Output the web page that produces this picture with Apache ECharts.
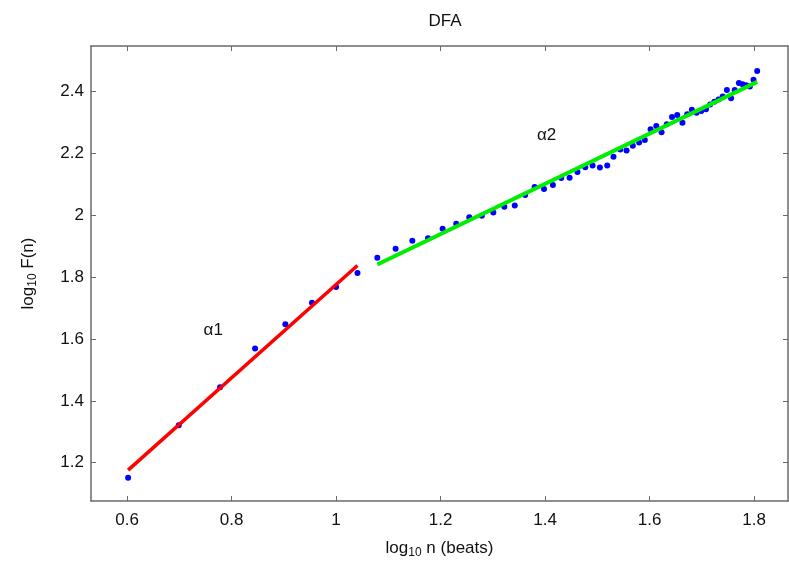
<!DOCTYPE html>
<html>
<head>
<meta charset="utf-8">
<script src="https://cdn.jsdelivr.net/npm/echarts@6/dist/echarts.min.js"></script>
<style>html,body{margin:0;padding:0;background:#fff}#c{width:789px;height:565px}</style>
</head>
<body>
<div id="c"></div>
<script>
// log10 n values (x) and log10 F(n) values (y)
var xShort = [0.602, 0.699, 0.778, 0.845, 0.903, 0.954, 1.000, 1.041];
var yShort = [1.151, 1.321, 1.444, 1.569, 1.648, 1.717, 1.768, 1.814];

var xLong = [1.079, 1.114, 1.146, 1.176, 1.204, 1.230, 1.255, 1.279, 1.301, 1.322,
             1.342, 1.362, 1.380, 1.398, 1.415, 1.431, 1.447, 1.462, 1.477, 1.491,
             1.505, 1.519, 1.531, 1.544, 1.556, 1.568, 1.580, 1.591, 1.602, 1.613,
             1.623, 1.633, 1.643, 1.653, 1.663, 1.672, 1.681, 1.690, 1.699, 1.708,
             1.716, 1.724, 1.732, 1.740, 1.748, 1.756, 1.763, 1.771, 1.778, 1.785,
             1.792, 1.799, 1.806];
var yLong = [1.863, 1.892, 1.918, 1.926, 1.957, 1.973, 1.994, 1.999, 2.009, 2.028,
             2.032, 2.066, 2.092, 2.085, 2.098, 2.121, 2.122, 2.140, 2.156, 2.161,
             2.155, 2.161, 2.190, 2.213, 2.210, 2.225, 2.236, 2.244, 2.279, 2.289,
             2.269, 2.295, 2.318, 2.325, 2.300, 2.327, 2.342, 2.332, 2.338, 2.343,
             2.359, 2.368, 2.375, 2.385, 2.406, 2.379, 2.406, 2.428, 2.424, 2.421,
             2.417, 2.439, 2.467];

// fitted lines (end points)
var fit1X = [0.602, 1.041];
var fit1Y = [1.176, 1.838];
var fit2X = [1.079, 1.806];
var fit2Y = [1.841, 2.432];

var annotX = [0.765, 1.403];
var annotY = [1.629, 2.260];
var annotText = ['\u03b11', '\u03b12'];

var xTicks = [0.6, 0.8, 1, 1.2, 1.4, 1.6, 1.8];
var yTicks = [1.2, 1.4, 1.6, 1.8, 2, 2.2, 2.4];
var xRange = [0.531, 1.865];
var yRange = [1.076, 2.548];

function zip(a, b) { return a.map(function (v, i) { return [v, b[i]]; }); }

var FONT = '"Liberation Sans", Arial, Helvetica, sans-serif';
var AX = '#6a6a6a';
var TXT = '#111111';

function xAx(pos, showLabel) {
  return {
    type: 'value', position: pos, min: xRange[0], max: xRange[1],
    axisLine: { show: true, onZero: false, lineStyle: { color: AX, width: 1.5 } },
    axisTick: { show: true, inside: true, length: 5, customValues: xTicks, lineStyle: { color: AX, width: 1 } },
    axisLabel: { show: showLabel, customValues: xTicks, margin: 11, color: TXT, fontSize: 17, fontFamily: FONT },
    splitLine: { show: false },
    name: showLabel ? '{t|log}{s|10}{t| n (beats)}' : '',
    nameLocation: 'middle', nameGap: 37,
    nameTextStyle: { rich: {
      t: { fontSize: 17, color: TXT, fontFamily: FONT },
      s: { fontSize: 12, color: TXT, fontFamily: FONT, verticalAlign: 'bottom', padding: [9, 0, 0, 0] } } }
  };
}
function yAx(pos, showLabel) {
  return {
    type: 'value', position: pos, min: yRange[0], max: yRange[1],
    axisLine: { show: true, onZero: false, lineStyle: { color: AX, width: 1.5 } },
    axisTick: { show: true, inside: true, length: 5, customValues: yTicks, lineStyle: { color: AX, width: 1 } },
    axisLabel: { show: showLabel, customValues: yTicks, margin: 7, color: TXT, fontSize: 17, fontFamily: FONT },
    splitLine: { show: false },
    name: showLabel ? '{t|log}{s|10}{t| F(n)}' : '',
    nameLocation: 'middle', nameGap: 52, nameRotate: 90,
    nameTextStyle: { rich: {
      t: { fontSize: 17, color: TXT, fontFamily: FONT },
      s: { fontSize: 12, color: TXT, fontFamily: FONT, verticalAlign: 'bottom', padding: [9, 0, 0, 0] } } }
  };
}

var chart = echarts.init(document.getElementById('c'), null, { renderer: 'canvas' });
chart.setOption({
  animation: false,
  backgroundColor: '#ffffff',
  title: { text: 'DFA', left: 440, top: 8, textAlign: 'center',
    textStyle: { fontSize: 17, fontWeight: 'normal', color: TXT, fontFamily: FONT } },
  grid: { left: 91, top: 46, right: 1, bottom: 64 },
  xAxis: [xAx('bottom', true), xAx('top', false)],
  yAxis: [yAx('left', true), yAx('right', false)],
  series: [
    { type: 'scatter', data: zip(xShort, yShort), symbol: 'circle', symbolSize: 6,
      itemStyle: { color: '#0000ff', opacity: 1 }, z: 2 },
    { type: 'scatter', data: zip(xLong, yLong), symbol: 'circle', symbolSize: 6,
      itemStyle: { color: '#0000ff', opacity: 1 }, z: 2 },
    { type: 'line', data: zip(fit1X, fit1Y), symbol: 'none', z: 3,
      lineStyle: { color: '#ff0000', width: 3.5 } },
    { type: 'line', data: zip(fit2X, fit2Y), symbol: 'none', z: 3,
      lineStyle: { color: '#00ee00', width: 4 } },
    { type: 'scatter', data: zip(annotX, annotY).map(function (p, i) {
        return { value: p, label: { formatter: annotText[i] } };
      }), symbolSize: 0, z: 4, itemStyle: { opacity: 1 },
      label: { show: true, position: 'inside', color: TXT, opacity: 1, fontSize: 17, fontFamily: FONT } }
  ]
});
</script>
</body>
</html>
